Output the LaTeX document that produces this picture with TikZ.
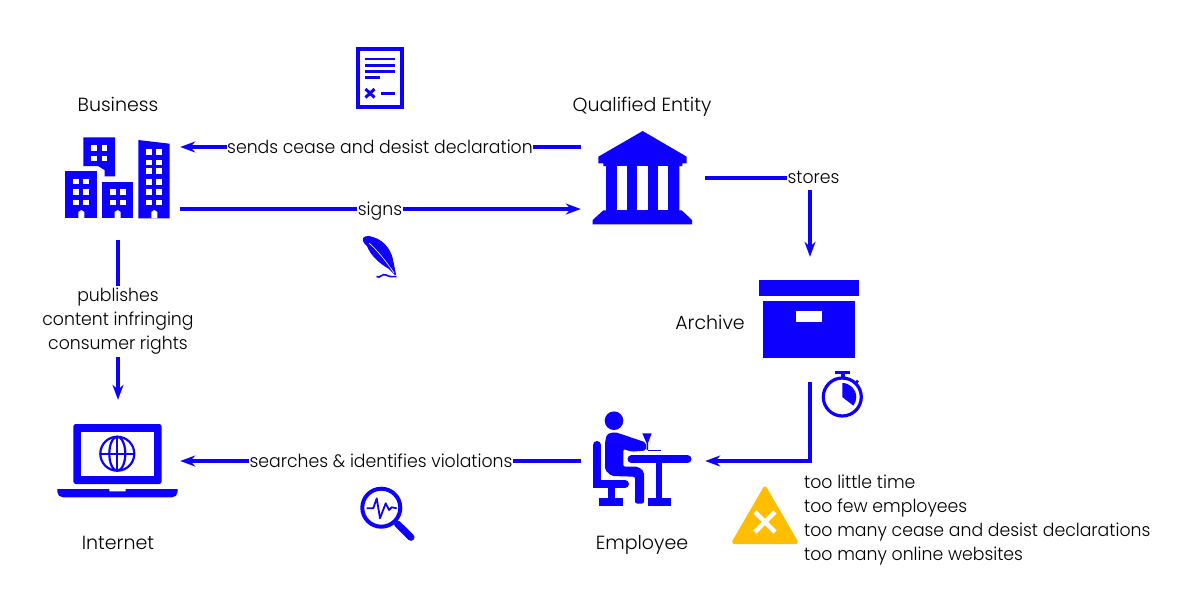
\documentclass[tikz,border=0pt]{standalone}
\usepackage{fontspec}
\setmainfont{Poppins}[UprightFont=* Light]
\newfontfamily\labelfont{Poppins}[UprightFont=* Light,FakeStretch=0.96]
\usetikzlibrary{arrows.meta,calc}
\definecolor{iconblue}{rgb}{0.05,0,1}
\definecolor{warnyellow}{rgb}{1,0.75,0}
\tikzstyle{flowline} = [line width=3.2pt,draw=iconblue]
\tikzstyle{arrow} = [flowline,-{Stealth[length=15pt,width=11pt]}]
\tikzstyle{flowlabel} = [fill=white,inner xsep=0.5pt,inner ysep=2pt,font=\labelfont\fontsize{18}{24}\selectfont,align=center]
\tikzstyle{oneline} = [text height=13pt,text depth=0pt]
\tikzstyle{actorname} = [font=\fontsize{19}{24}\selectfont,text height=14pt,text depth=0pt]
\tikzstyle{iconbox} = [inner sep=0pt]
\tikzstyle{hole} = [fill=white]
\tikzstyle{icon} = [fill=iconblue]
\begin{document}
\begin{tikzpicture}[x=1pt,y=-1pt]
\useasboundingbox (0,0) rectangle (1195,606);
% actors, the boxes only hold the anchors
\node[iconbox,minimum width=124pt,minimum height=110pt] (business) at (118,185) {};
\node[iconbox,minimum width=124pt,minimum height=105pt] (entity) at (643,178) {};
\node[iconbox,minimum width=110pt,minimum height=125pt] (archive) at (810,319.5) {};
\node[iconbox,minimum width=124pt,minimum height=110pt] (internet) at (118,455) {};
\node[iconbox,minimum width=124pt,minimum height=120pt] (employee) at (643,460) {};
\node[actorname] (businessname) at (118,104.5) {Business};
\node[actorname] (entityname) at (642,104) {Qualified Entity};
\node[actorname] (archivename) at (710,322) {Archive};
\node[actorname] (internetname) at (118,542) {Internet};
\node[actorname] (employeename) at (642,542) {Employee};
% labels on the connectors
\node[flowlabel,text height=11pt,text depth=0pt,inner ysep=6pt] (stores) at (813.5,178) {stores};
\node[flowlabel,oneline] (sends) at (380,147) {sends cease and desist declaration};
\node[flowlabel,oneline] (signs) at (380,209) {signs};
\node[flowlabel] (publishes) at (118,321.5) {publishes\\content infringing\\consumer rights};
\node[flowlabel,oneline] (searches) at (381,461) {searches \& identifies violations};
\node[flowlabel,fill=none,anchor=north west,align=left,inner sep=0pt] (reasons) at (804,475) {too little time\\too few employees\\too many cease and desist declarations\\too many online websites};
% connectors
\draw[flowline] (sends -| entity.west)--(sends);
\draw[arrow] (sends)--(sends -| business.east);
\draw[flowline] (signs -| business.east)--(signs);
\draw[arrow] (signs)--(signs -| entity.west);
\draw[flowline] (entity.east)--(stores);
\draw[arrow] (stores.south -| archive.north)--(archive.north);
\draw[flowline] (business.south)--(publishes);
\draw[arrow] (publishes)--(internet.north);
\draw[arrow] (archive.south) |- (searches -| employee.east);
\draw[flowline] (searches -| employee.west)--(searches);
\draw[arrow] (searches)--(searches -| internet.east);
% buildings
\fill[icon] (83.3,137.3)--(115,137.3)--(115,176.3)--(104.5,176.3)--(104.5,170)--(98,166)--(83.3,166)--cycle;
\fill[hole] (91,145.3) rectangle (97,150.7);
\fill[hole] (101.7,145.3) rectangle (107,150.7);
\fill[hole] (91,156) rectangle (97,161);
\fill[hole] (101.7,156) rectangle (107,161);
\fill[icon] (65.3,171.3) rectangle (96.7,218.3);
\fill[icon] (101.7,181.7) rectangle (133.3,218.3);
\fill[icon] (138.3,140)--(169.7,143.7)--(169.7,218.3)--(138.3,218.3)--cycle;
\fill[hole] (73.3,178.7) rectangle (79.3,184.3);
\fill[hole] (83.3,178.7) rectangle (89.3,184.3);
\fill[hole] (73.3,189) rectangle (79.3,194.7);
\fill[hole] (83.3,189) rectangle (89.3,194.7);
\fill[hole] (73.3,199.7) rectangle (79.3,205.3);
\fill[hole] (83.3,199.7) rectangle (89.3,205.3);
\fill[hole] (78.3,218.4)--(78.3,212)--(81.3,210)--(84.3,212)--(84.3,218.4)--cycle;
\fill[hole] (109.7,189.3) rectangle (115.7,195);
\fill[hole] (120,189.3) rectangle (126,195);
\fill[hole] (109.7,199.7) rectangle (115.7,205.3);
\fill[hole] (120,199.7) rectangle (126,205.3);
\fill[hole] (114.7,218.4)--(114.7,212)--(117.7,210)--(120.7,212)--(120.7,218.4)--cycle;
\fill[hole] (146,149.3) rectangle (152,155);
\fill[hole] (156.3,149.3) rectangle (162,155);
\fill[hole] (146,159.7) rectangle (152,165.3);
\fill[hole] (156.3,159.7) rectangle (162,165.3);
\fill[hole] (146,168.3) rectangle (152,174);
\fill[hole] (156.3,168.3) rectangle (162,174);
\fill[hole] (146,179) rectangle (152,184.7);
\fill[hole] (156.3,179) rectangle (162,184.7);
\fill[hole] (146,189.3) rectangle (152,195);
\fill[hole] (156.3,189.3) rectangle (162,195);
\fill[hole] (146,199.7) rectangle (152,205.3);
\fill[hole] (156.3,199.7) rectangle (162,205.3);
\fill[hole] (151.3,218.4)--(151.3,212)--(154.3,210)--(157.3,212)--(157.3,218.4)--cycle;
% declaration
\draw[iconblue,line width=4.4pt] (357.9,48.9) rectangle (401.8,107.1);
\draw[iconblue,line width=2.8pt] (365,59)--(395,59);
\draw[iconblue,line width=2.8pt] (365,65.2)--(395,65.2);
\draw[iconblue,line width=2.8pt] (365,71.5)--(395,71.5);
\draw[iconblue,line width=2.8pt] (365,77.7)--(380,77.7);
\draw[iconblue,line width=3pt] (365.5,89)--(374.5,97.5);
\draw[iconblue,line width=3pt] (374.5,89)--(365.5,97.5);
\draw[iconblue,line width=2.8pt] (381,93.3)--(395,93.3);
% quill
\fill[icon] (363,241) .. controls (361,236) and (368,235) .. (373,237) .. controls (386,241) and (392,252) .. (393.5,262) -- (396,274.5) -- (395,275) -- (389,269) .. controls (380,264) and (370,255) .. (367,246) .. controls (365,245) and (364,243) .. (363,241)--cycle;
\draw[white,line width=0.6pt] (369,243) .. controls (377,250) and (386,261) .. (394,273);
\draw[iconblue,line width=1.6pt] (376.5,276.5) .. controls (380,279) and (382,273) .. (386,275) .. controls (390,277) and (393,277) .. (396.5,276.5);
% bank
\fill[icon] (642.7,131)--(686.7,156.7)--(686.7,163.3)--(682.3,163.3)--(682.3,166)--(679.3,166)--(679.3,210.3)--(681.7,210.3)--(692,220)--(692,224.3)--(592.7,224.3)--(592.7,220)--(603.3,210.3)--(606,210.3)--(606,166)--(603.3,166)--(603.3,163.3)--(598.3,163.3)--(598.3,156.7)--cycle;
\fill[hole] (616.7,166) rectangle (627,210.3);
\fill[hole] (637.3,166) rectangle (647.7,210.3);
\fill[hole] (658,166) rectangle (668.3,210.3);
% archive box
\fill[icon] (759.3,280) rectangle (858.7,296);
\fill[icon] (763.3,300.7) rectangle (855,358);
\fill[hole] (796,311.3) rectangle (822.3,321.7);
% stopwatch
\draw[iconblue,line width=3.2pt] (842.3,397) circle (19);
\fill[icon] (835,370.7) rectangle (850,374);
\fill[icon] (841,374) rectangle (845,377);
\draw[iconblue,line width=2.6pt] (855,384)--(858,380.5);
\fill[icon] (842.3,397)--(842.3,383) arc[start angle=-90,end angle=38,radius=14]--cycle;
% laptop
\fill[icon,rounded corners=2.5pt] (73.3,484)--(73.3,424)--(161.7,424)--(161.7,484)--cycle;
\fill[hole] (81,431.7) rectangle (154.3,476);
\draw[iconblue,line width=2.2pt] (117.3,453.7) circle (17);
\draw[iconblue,line width=2.2pt] (117.3,453.7) ellipse (8 and 17);
\draw[iconblue,line width=2.2pt] (100.3,453.7)--(134.3,453.7);
\draw[iconblue,line width=2.2pt] (117.3,436.7)--(117.3,470.7);
\fill[icon] (57.3,489)--(109.3,489)--(109.3,491.3)--(125.7,491.3)--(125.7,489)--(177.7,489)--(177.7,492) .. controls (177.7,495) and (175,497.3) .. (172,497.3)--(63,497.3) .. controls (60,497.3) and (57.3,495) .. (57.3,492)--cycle;
% magnifier
\draw[iconblue,line width=4pt] (381.3,507.7) circle (19);
\draw[iconblue,line width=7pt,line cap=round] (397.5,524)--(411,537.3);
\draw[iconblue,line width=1.8pt,line join=round] (366.7,508.3)--(373.3,508.3)--(376.7,498.3)--(380,518.3)--(385.7,503.3)--(389,510)--(391.7,507.3)--(396.7,508.3);
% employee
\fill[icon] (614,420.7) circle (9.3);
\fill[icon,rounded corners=2pt] (605,442)--(607,434)--(615,432)--(646,442.5)--(646,450.5)--(631.7,451.7)--(623.3,449)--(623.3,466.7)--(638.3,466.7)--(644,471.7)--(644,503.5)--(635,503.5)--(635,476.7)--(611.7,476)--(605,470)--cycle;
\draw[iconblue,line width=8pt,line cap=round] (597,445)--(597,484)--(625,484);
\fill[icon] (608,488) rectangle (615,498.3);
\fill[icon] (599.3,498.3) rectangle (623.3,506);
\draw[iconblue,line width=8pt,line cap=round] (631.5,459.3)--(687.5,459.3);
\fill[icon] (656,463) rectangle (662.3,498.3);
\fill[icon] (647.7,498.3) rectangle (671,506);
\fill[icon] (642.3,433.3)--(651.7,433.3)--(648,443)--(648,450)--(646.5,450)--(646.5,443)--cycle;
\fill[icon] (648,449.5) rectangle (660.7,451);
% warning
\fill[warnyellow,draw=warnyellow,line width=4pt,line join=round] (765,488.5)--(796,542)--(734,542)--cycle;
\draw[white,line width=4.5pt] (755,512)--(775,532);
\draw[white,line width=4.5pt] (775,512)--(755,532);
\end{tikzpicture}
\end{document}
